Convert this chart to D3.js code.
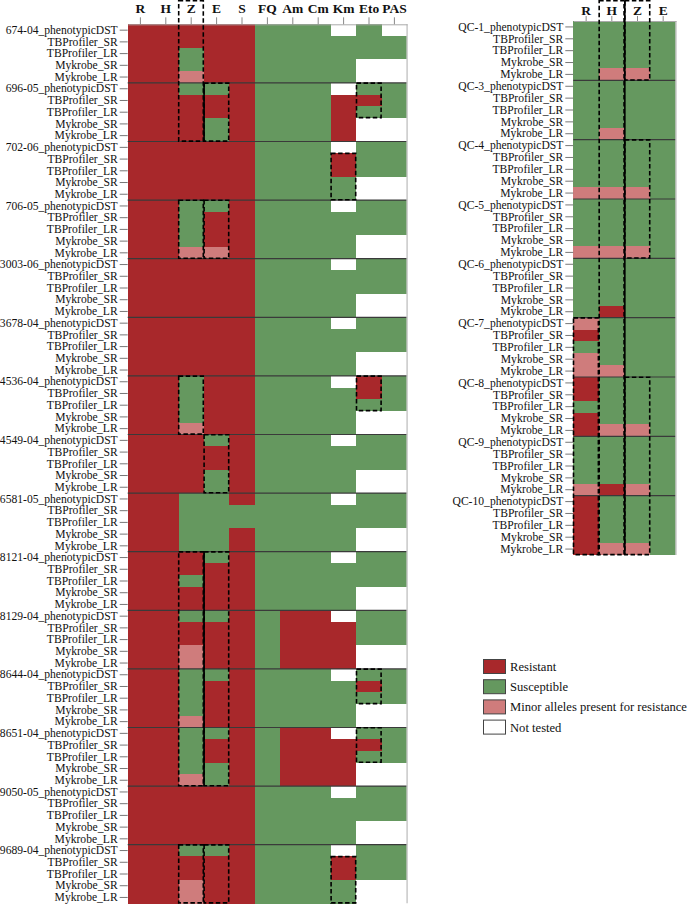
<!DOCTYPE html>
<html>
<head>
<meta charset="utf-8">
<script src="https://cdn.jsdelivr.net/npm/d3@7"></script>
<style>
  html, body { margin: 0; padding: 0; background: #fff; }
  svg { display: block; }
  .lbl text { font-family: "Liberation Serif", "Times New Roman", serif; }
</style>
</head>
<body>
<svg id="chart" width="689" height="905"></svg>
<script>
// ---------------- DATA ----------------
const leftCols = ["R", "H", "Z", "E", "S", "FQ", "Am", "Cm", "Km", "Eto", "PAS"];
const rightCols = ["R", "H", "Z", "E"];
const rowTypes = ["phenotypicDST", "TBProfiler_SR", "TBProfiler_LR", "Mykrobe_SR", "Mykrobe_LR"];

// status codes: R = Resistant, S = Susceptible, M = Minor alleles, N = Not tested
const leftSamples = ["674-04", "696-05", "702-06", "706-05", "3003-06", "3678-04", "4536-04",
  "4549-04", "6581-05", "8121-04", "8129-04", "8644-04", "8651-04", "9050-05", "9689-04"];
const leftValues = [
  ["RRRRRSSSNSN", "RRRRRSSSSSS", "RRSRRSSSSSS", "RRSRRSSSSNN", "RRMRRSSSSNN"], // 674-04
  ["RRSSRSSSNSS", "RRRRRSSSRRS", "RRRRRSSSRSS", "RRRSRSSSRNN", "RRRSRSSSRNN"], // 696-05
  ["RRRRRSSSNSS", "RRRRRSSSRSS", "RRRRRSSSRSS", "RRRRRSSSSNN", "RRRRRSSSSNN"], // 702-06
  ["RRSSRSSSNSS", "RRSRRSSSSSS", "RRSRRSSSSSS", "RRSRRSSSSNN", "RRMMRSSSSNN"], // 706-05
  ["RRRRRSSSNSS", "RRRRRSSSSSS", "RRRRRSSSSSS", "RRRRRSSSSNN", "RRRRRSSSSNN"], // 3003-06
  ["RRRRRSSSNSS", "RRRRRSSSSSS", "RRRRRSSSSSS", "RRRRRSSSSNN", "RRRRRSSSSNN"], // 3678-04
  ["RRSRRSSSNRS", "RRSRRSSSSRS", "RRSRRSSSSSS", "RRSRRSSSSNN", "RRMRRSSSSNN"], // 4536-04
  ["RRRSRSSSNSS", "RRRRRSSSSSS", "RRRRRSSSSSS", "RRRSRSSSSNN", "RRRSRSSSSNN"], // 4549-04
  ["RRSSRSSSNSS", "RRSSSSSSSSS", "RRSSSSSSSSS", "RRSSRSSSSNN", "RRSSRSSSSNN"], // 6581-05
  ["RRRSRSSSNSS", "RRRRRSSSSSS", "RRSRRSSSSSS", "RRRRRSSSSNN", "RRRRRSSSSNN"], // 8121-04
  ["RRSSRSRRNSS", "RRRRRSRRRSS", "RRRRRSRRRSS", "RRMRRSRRRNN", "RRMRRSRRRNN"], // 8129-04
  ["RRSSRSSSNSS", "RRSRRSSSSRS", "RRSRRSSSSSS", "RRSRRSSSSNN", "RRMRRSSSSNN"], // 8644-04
  ["RRSSRSRRNSS", "RRSRRSRRRRS", "RRSRRSRRRSS", "RRSSRSRRRNN", "RRMSRSRRRNN"], // 8651-04
  ["RRRRRSSSNSS", "RRRRRSSSSSS", "RRRRRSSSSSS", "RRRRRSSSSNN", "RRRRRSSSSNN"], // 9050-05
  ["RRSSRSSSNSS", "RRRRRSSSRSS", "RRRRRSSSRSS", "RRMRRSSSSNN", "RRMRRSSSSNN"]  // 9689-04
];

const rightSamples = ["QC-1", "QC-3", "QC-4", "QC-5", "QC-6", "QC-7", "QC-8", "QC-9", "QC-10"];
const rightValues = [
  ["SSSS", "SSSS", "SSSS", "SSSS", "SMMS"], // QC-1
  ["SSSS", "SSSS", "SSSS", "SSSS", "SMSS"], // QC-3
  ["SSSS", "SSSS", "SSSS", "SSSS", "MMMS"], // QC-4
  ["SSSS", "SSSS", "SSSS", "SSSS", "MMMS"], // QC-5
  ["SSSS", "SSSS", "SSSS", "SSSS", "SRSS"], // QC-6
  ["MSSS", "RSSS", "SSSS", "MSSS", "MMSS"], // QC-7
  ["RSSS", "RSSS", "SSSS", "RSSS", "RMMS"], // QC-8
  ["SSSS", "SSSS", "SSSS", "SSSS", "MRMS"], // QC-9
  ["RSSS", "RSSS", "RSSS", "RSSS", "RMMS"]  // QC-10
];

// highlighted (dashed) boxes: column range, first/last row index, whether it reaches the header
const leftBoxes = [
  { c0: "Z", c1: "Z", r0: 0, r1: 9, top: true },
  { c0: "E", c1: "E", r0: 5, r1: 9 },
  { c0: "Eto", c1: "Eto", r0: 5, r1: 7 },
  { c0: "Km", c1: "Km", r0: 11, r1: 14 },
  { c0: "Z", c1: "Z", r0: 15, r1: 19 },
  { c0: "E", c1: "E", r0: 15, r1: 19 },
  { c0: "Z", c1: "Z", r0: 30, r1: 34 },
  { c0: "Eto", c1: "Eto", r0: 30, r1: 32 },
  { c0: "E", c1: "E", r0: 35, r1: 39 },
  { c0: "Z", c1: "Z", r0: 45, r1: 64 },
  { c0: "E", c1: "E", r0: 45, r1: 64 },
  { c0: "Eto", c1: "Eto", r0: 55, r1: 57 },
  { c0: "Eto", c1: "Eto", r0: 60, r1: 62 },
  { c0: "Z", c1: "Z", r0: 70, r1: 74 },
  { c0: "E", c1: "E", r0: 70, r1: 74 },
  { c0: "Km", c1: "Km", r0: 71, r1: 74 }
];
const leftDividers = [
  { col: "E", r0: 5, r1: 9 },
  { col: "E", r0: 45, r1: 64 }
];
const rightBoxes = [
  { c0: "H", c1: "H", r0: 0, r1: 44, top: true },
  { c0: "Z", c1: "Z", r0: 0, r1: 4, top: true },
  { c0: "Z", c1: "Z", r0: 10, r1: 19 },
  { c0: "Z", c1: "Z", r0: 30, r1: 44 },
  { c0: "R", c1: "R", r0: 25, r1: 44 }
];
const rightDividers = [
  { col: "Z", r0: 0, r1: 44, top: true }
];

const legendKeys = ["R", "S", "M", "N"];
const legendLabels = ["Resistant", "Susceptible", "Minor alleles present for resistance", "Not tested"];

// ---------------- DRAWING ----------------
const color = d3.scaleOrdinal()
  .domain(["R", "S", "M", "N"])
  .range(["#a8282b", "#65985f", "#cf7c7c", "#ffffff"]);

const svg = d3.select("#chart");
const serif = '"Liberation Serif", "Times New Roman", serif';

function drawPanel(cfg) {
  const g = svg.append("g");
  const nRows = cfg.samples.length * rowTypes.length;
  const rows = d3.range(nRows);
  const x = d3.scaleBand().domain(cfg.cols).range([cfg.x0, cfg.x1]);
  const y = d3.scaleBand().domain(rows).range([cfg.y0, cfg.y1]);

  const cells = [];
  cfg.samples.forEach((s, si) => {
    cfg.values[si].forEach((str, ti) => {
      str.split("").forEach((code, ci) => {
        cells.push({ row: si * rowTypes.length + ti, col: cfg.cols[ci], code });
      });
    });
  });

  g.append("g").selectAll("rect").data(cells).join("rect")
    .attr("x", d => x(d.col))
    .attr("y", d => y(d.row))
    .attr("width", x.bandwidth() + 0.3)
    .attr("height", y.bandwidth() + 0.3)
    .attr("fill", d => color(d.code))
    .attr("shape-rendering", "crispEdges");

  // group separators
  g.append("g").selectAll("line").data(d3.range(1, cfg.samples.length)).join("line")
    .attr("x1", cfg.x0).attr("x2", cfg.x1)
    .attr("y1", d => y(d * rowTypes.length)).attr("y2", d => y(d * rowTypes.length))
    .attr("stroke", "#3a3a3a").attr("stroke-width", 1.2);

  // right edge
  g.append("line")
    .attr("x1", cfg.x1).attr("x2", cfg.x1)
    .attr("y1", cfg.y0).attr("y2", cfg.y1)
    .attr("stroke", "#c8c8c8").attr("stroke-width", 1.5);

  // left axis (row labels)
  const yAxis = d3.axisLeft(y).tickSize(8).tickPadding(2)
    .tickFormat(i => {
      const t = i % rowTypes.length;
      const s = cfg.samples[Math.floor(i / rowTypes.length)];
      return t === 0 ? s + "_" + rowTypes[0] : rowTypes[t];
    });
  const ya = g.append("g").attr("class", "lbl")
    .attr("transform", `translate(${cfg.x0},0)`).call(yAxis);
  ya.select(".domain").remove();
  ya.selectAll("line").attr("stroke", "#777");
  ya.selectAll("text").attr("font-size", cfg.rowFont).attr("fill", "#111")
    .attr("font-family", serif);

  // top axis (drug labels)
  const xAxis = d3.axisTop(x).tickSize(cfg.tickTop).tickSizeOuter(0).tickPadding(cfg.padTop);
  const xa = g.append("g").attr("class", "lbl")
    .attr("transform", `translate(0,${cfg.y0})`).call(xAxis);
  xa.select(".domain").attr("stroke", "#aaa");
  xa.selectAll("line").attr("stroke", "#888");
  xa.selectAll("text").attr("font-size", 13.5).attr("font-weight", "bold")
    .attr("fill", "#111").attr("font-family", serif);

  // dashed boxes
  g.append("g").selectAll("rect").data(cfg.boxes).join("rect")
    .attr("x", d => x(d.c0) + 0.2)
    .attr("y", d => d.top ? 0.8 : y(d.r0) + 0.2)
    .attr("width", d => x(d.c1) + x.bandwidth() - x(d.c0) - 0.8)
    .attr("height", d => y(d.r1) + y.bandwidth() - (d.top ? 0.8 : y(d.r0) + 0.2) - 0.4)
    .attr("fill", "none")
    .attr("stroke", "#000")
    .attr("stroke-width", 1.6)
    .attr("stroke-dasharray", "4.5,2.5");

  // solid dividers where boxes meet
  g.append("g").selectAll("line").data(cfg.dividers).join("line")
    .attr("x1", d => x(d.col) + 0.2).attr("x2", d => x(d.col) + 0.2)
    .attr("y1", d => d.top ? 0.8 : y(d.r0))
    .attr("y2", d => y(d.r1) + y.bandwidth())
    .attr("stroke", "#000").attr("stroke-width", 1.6);
}

drawPanel({
  cols: leftCols, samples: leftSamples, values: leftValues,
  x0: 127.7, x1: 407.1, y0: 24.3, y1: 903.3,
  boxes: leftBoxes, dividers: leftDividers,
  rowFont: 11.6, tickTop: 7, padTop: 4
});

drawPanel({
  cols: rightCols, samples: rightSamples, values: rightValues,
  x0: 573.3, x1: 676, y0: 21, y1: 555,
  boxes: rightBoxes, dividers: rightDividers,
  rowFont: 11.6, tickTop: 5, padTop: 1
});

// legend
const lg = svg.append("g").attr("transform", "translate(483.5,659.5)");
const item = lg.selectAll("g").data(legendKeys).join("g")
  .attr("transform", (d, i) => `translate(0,${i * 20.2})`);
item.append("rect")
  .attr("width", 22).attr("height", 14)
  .attr("fill", d => color(d))
  .attr("stroke", "#444").attr("stroke-width", 1);
item.append("text")
  .attr("x", 26.5).attr("y", 11.5)
  .attr("font-family", serif).attr("font-size", 12.6).attr("fill", "#111")
  .text((d, i) => legendLabels[i]);
</script>
</body>
</html>
